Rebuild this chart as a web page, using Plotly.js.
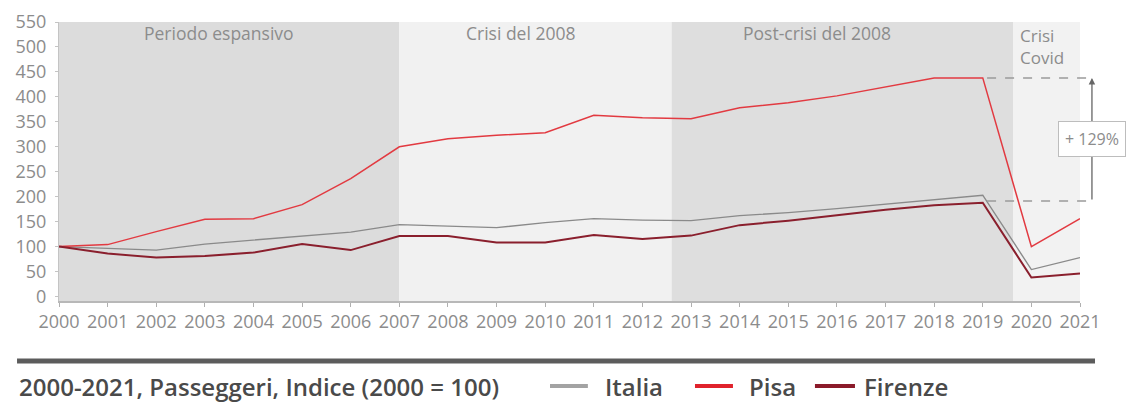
<!DOCTYPE html>
<html>
<head>
<meta charset="utf-8">
<script src="https://cdn.plot.ly/plotly-3.0.1.min.js"></script>
<style>
  html, body { margin: 0; padding: 0; background: #ffffff; }
  #chart { width: 1126px; height: 403px; }
</style>
</head>
<body>
<div id="chart"></div>
<script>
// ---- Data ----
const years = [2000, 2001, 2002, 2003, 2004, 2005, 2006, 2007, 2008, 2009, 2010,
               2011, 2012, 2013, 2014, 2015, 2016, 2017, 2018, 2019, 2020, 2021];
const italia = [100, 97, 93, 105, 113, 121, 129, 144, 141, 138, 148,
                156, 153, 152, 162, 168, 176, 185, 194, 203, 54, 78];
const pisa = [100, 104, 130, 155, 156, 184, 236, 300, 316, 323, 328,
              363, 358, 356, 378, 388, 402, 420, 438, 438, 100, 156];
const firenze = [100, 86, 78, 81, 88, 105, 93, 121, 121, 108, 108,
                 123, 115, 122, 143, 152, 163, 174, 183, 188, 38, 46];
const seriesNames = ["Italia", "Pisa", "Firenze"];
const periodLabels = ["Periodo espansivo", "Crisi del 2008", "Post-crisi del 2008", "Crisi<br>Covid"];
const periodBounds = [2000, 2007, 2012.6, 2019.63, 2021];
const growthLabel = "+ 129%";
const growthPct = 129;
const chartTitle = "2000-2021, Passeggeri, Indice (2000 = 100)";

// ---- Styles ----
const colors = { Italia: "#8a8a8a", Pisa: "#e23a41", Firenze: "#8a1f2d" };
const legendColors = { Italia: "#a3a3a3", Pisa: "#e0222c", Firenze: "#8b1a2a" };
const shadeColors = ["#dcdcdc", "#f1f1f1", "#dedede", "#f2f2f2"];
const labelFont = "Open Sans, Liberation Sans, sans-serif";
const titleFont = "Open Sans, Liberation Sans, sans-serif";

const traces = [
  { x: years, y: italia, name: seriesNames[0], mode: "lines",
    line: { color: colors.Italia, width: 1.4 } },
  { x: years, y: pisa, name: seriesNames[1], mode: "lines",
    line: { color: colors.Pisa, width: 1.5 } },
  { x: years, y: firenze, name: seriesNames[2], mode: "lines",
    line: { color: colors.Firenze, width: 2 } }
];

// shaded periods
const shapes = [];
for (let i = 0; i < 4; i++) {
  shapes.push({ type: "rect", xref: "x", yref: "paper", layer: "below",
    x0: periodBounds[i], x1: periodBounds[i + 1], y0: 0, y1: 1,
    fillcolor: shadeColors[i], line: { width: 0 } });
}

// growth markers (derived from data)
const idx2019 = years.indexOf(2019);
const upper = pisa[idx2019];
const lower = upper / (1 + growthPct / 100);
shapes.push({ type: "line", xref: "paper", yref: "y", x0: 0.909, x1: 1.0117,
  y0: upper, y1: upper, line: { color: "#9a9a9a", width: 1.5, dash: "dash" } });
shapes.push({ type: "line", xref: "paper", yref: "y", x0: 0.909, x1: 1.0117,
  y0: lower, y1: lower, line: { color: "#9a9a9a", width: 1.5, dash: "dash" } });

// separator line and legend swatches
shapes.push({ type: "line", xref: "paper", yref: "paper", x0: -0.0411, x1: 1.0147,
  y0: -0.215, y1: -0.215, line: { color: "#5c5c5c", width: 5 } });
const legendPos = [
  { name: "Italia", x0: 0.4809, x1: 0.518, tx: 0.5328 },
  { name: "Pisa", x0: 0.6229, x1: 0.6601, tx: 0.6738 },
  { name: "Firenze", x0: 0.7404, x1: 0.7796, tx: 0.7865 }
];
const legendY = -0.3047;
legendPos.forEach(p => {
  shapes.push({ type: "line", xref: "paper", yref: "paper", x0: p.x0, x1: p.x1,
    y0: legendY, y1: legendY, line: { color: legendColors[p.name], width: 4 } });
});

const annotations = [];
const periodX = [2003.3, 2009.5, 2015.6];
for (let i = 0; i < 3; i++) {
  annotations.push({ text: periodLabels[i], xref: "x", yref: "paper", x: periodX[i], y: 0.962,
    xanchor: "center", yanchor: "middle", showarrow: false,
    font: { family: labelFont, size: 17.5, color: "#8c8c8c" } });
}
annotations.push({ text: periodLabels[3], xref: "x", yref: "paper", x: 2019.73, y: 1.0,
  xanchor: "left", yanchor: "top", align: "left", showarrow: false,
  font: { family: labelFont, size: 17, color: "#8c8c8c" } });

// arrow
annotations.push({ text: "", xref: "paper", yref: "y", x: 1.0117, y: upper,
  axref: "pixel", ayref: "y", ax: 0, ay: lower, showarrow: true,
  arrowhead: 2, arrowsize: 1, arrowwidth: 1.3, arrowcolor: "#666666" });
// growth label box
annotations.push({ text: growthLabel, xref: "paper", yref: "y", x: 1.0118, y: (upper + lower) / 2,
  xanchor: "center", yanchor: "middle", showarrow: false,
  bgcolor: "#ffffff", bordercolor: "#bdbdbd", borderwidth: 1, borderpad: 6,
  font: { family: labelFont, size: 16, color: "#8c8c8c" } });

// title and legend texts
annotations.push({ text: chartTitle, xref: "paper", yref: "paper", x: -0.0411, y: legendY,
  xanchor: "left", yanchor: "middle", showarrow: false,
  font: { family: titleFont, size: 24, color: "#4a4a4a", weight: 600 } });
legendPos.forEach(p => {
  annotations.push({ text: p.name, xref: "paper", yref: "paper", x: p.tx, y: legendY,
    xanchor: "left", yanchor: "middle", showarrow: false,
    font: { family: titleFont, size: 24, color: "#4a4a4a", weight: 600 } });
});

const layout = {
  width: 1126, height: 403,
  margin: { l: 59, r: 46, t: 22, b: 102 },
  paper_bgcolor: "#ffffff", plot_bgcolor: "#ffffff",
  showlegend: false,
  xaxis: {
    range: [2000, 2021], tickmode: "array", tickvals: years, ticktext: years.map(String),
    showgrid: false, zeroline: false, showline: true, linecolor: "#b8b8b8", linewidth: 1.5,
    ticks: "outside", ticklen: 4, tickcolor: "#b0b0b0",
    tickfont: { family: labelFont, size: 18, color: "#8c8c8c" }
  },
  yaxis: {
    range: [-9, 550], tickmode: "linear", tick0: 0, dtick: 50,
    showgrid: false, zeroline: false, showline: true, linecolor: "#c4c4c4", linewidth: 1,
    ticks: "outside", ticklen: 3, tickcolor: "#c4c4c4", ticklabelstandoff: 5,
    tickfont: { family: labelFont, size: 18, color: "#8c8c8c" }
  },
  shapes: shapes,
  annotations: annotations
};

Plotly.newPlot("chart", traces, layout, { displayModeBar: false, staticPlot: true });
</script>
</body>
</html>
